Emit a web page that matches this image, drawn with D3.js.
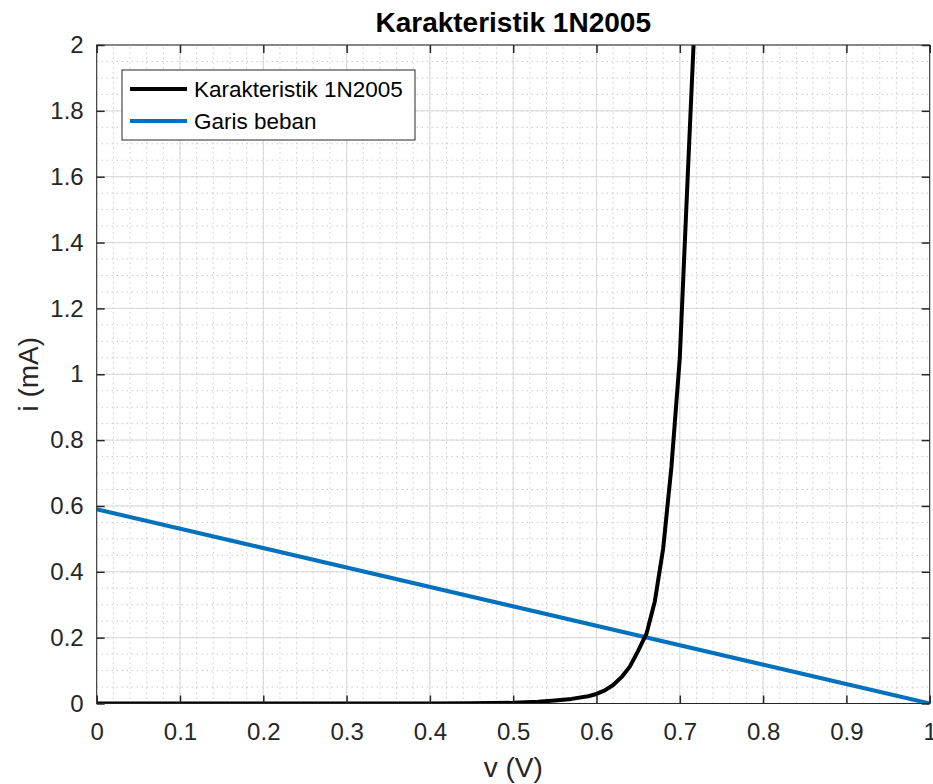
<!DOCTYPE html>
<html><head><meta charset="utf-8">
<script src="https://cdn.jsdelivr.net/npm/d3@7"></script>
<style>body{margin:0;background:#fff;} svg{display:block;font-family:"Liberation Sans",Arial,sans-serif;}</style>
</head><body>
<script>
// Data
const diodeV = [0, 0.1, 0.2, 0.3, 0.4, 0.45, 0.5, 0.53, 0.55, 0.57, 0.59, 0.60, 0.61, 0.62, 0.63, 0.64, 0.65, 0.66, 0.67, 0.68, 0.69, 0.70, 0.71, 0.72];
const diodeI = [0, 0, 0, 0, 0.0002, 0.0008, 0.002, 0.005, 0.009, 0.014, 0.022, 0.029, 0.040, 0.056, 0.080, 0.112, 0.160, 0.212, 0.31, 0.47, 0.72, 1.05, 1.63, 2.2];
const loadV = [0, 1];
const loadI = [0.59, 0];
const xTicks = [0, 0.1, 0.2, 0.3, 0.4, 0.5, 0.6, 0.7, 0.8, 0.9, 1];
const yTicks = [0, 0.2, 0.4, 0.6, 0.8, 1, 1.2, 1.4, 1.6, 1.8, 2];
const seriesNames = ["Karakteristik 1N2005", "Garis beban"];
const seriesColors = ["#000000", "#0072BD"];

const W = 933, H = 784;
const m = {left: 96.7, top: 45, right: 933 - 929.7, bottom: 784 - 703.5};
const svg = d3.select("body").append("svg").attr("width", W).attr("height", H);
const x = d3.scaleLinear().domain([0, 1]).range([m.left, W - m.right]);
const y = d3.scaleLinear().domain([0, 2]).range([H - m.bottom, m.top]);

// minor grid
const xMinor = d3.range(0, 1.0001, 0.02);
const yMinor = d3.range(0, 2.0001, 0.05);
const g = svg.append("g");
g.selectAll(".mx").data(xMinor).enter().append("line")
  .attr("x1", d => x(d)).attr("x2", d => x(d)).attr("y1", y(0)).attr("y2", y(2))
  .attr("stroke", "#b0b0b0").attr("stroke-width", 1).attr("stroke-dasharray", "1,4");
g.selectAll(".my").data(yMinor).enter().append("line")
  .attr("y1", d => y(d)).attr("y2", d => y(d)).attr("x1", x(0)).attr("x2", x(1))
  .attr("stroke", "#b0b0b0").attr("stroke-width", 1).attr("stroke-dasharray", "1,4");
// major grid
g.selectAll(".gx").data(xTicks).enter().append("line")
  .attr("x1", d => x(d)).attr("x2", d => x(d)).attr("y1", y(0)).attr("y2", y(2))
  .attr("stroke", "#d8d8d8").attr("stroke-width", 1);
g.selectAll(".gy").data(yTicks).enter().append("line")
  .attr("y1", d => y(d)).attr("y2", d => y(d)).attr("x1", x(0)).attr("x2", x(1))
  .attr("stroke", "#d8d8d8").attr("stroke-width", 1);

// clip
svg.append("clipPath").attr("id", "clip").append("rect")
  .attr("x", x(0)).attr("y", y(2)).attr("width", x(1) - x(0)).attr("height", y(0) - y(2));

const line = d3.line().x(d => x(d[0])).y(d => y(d[1]));
const plot = svg.append("g").attr("clip-path", "url(#clip)");
plot.append("path").datum(loadV.map((v, i) => [v, loadI[i]]))
  .attr("d", line).attr("fill", "none").attr("stroke", seriesColors[1]).attr("stroke-width", 4);
plot.append("path").datum(diodeV.map((v, i) => [v, diodeI[i]]))
  .attr("d", line).attr("fill", "none").attr("stroke", seriesColors[0]).attr("stroke-width", 4)
  .attr("stroke-linejoin", "round");

// axes
const fmt = d => d3.format("~g")(d);
const axCol = "#262626";
function styleAxis(sel, showLabels) {
  sel.select(".domain").remove();
  sel.selectAll(".tick line").attr("stroke", axCol).attr("stroke-width", 1.5);
  sel.selectAll(".tick text").attr("fill", axCol).style("font-size", "24px");
  if (!showLabels) sel.selectAll(".tick text").remove();
}
svg.append("g").attr("transform", `translate(0,${y(0)})`)
  .call(d3.axisBottom(x).tickValues(xTicks).tickFormat(fmt).tickSizeInner(-8).tickSizeOuter(0).tickPadding(19))
  .call(s => styleAxis(s, true));
svg.append("g").attr("transform", `translate(0,${y(2)})`)
  .call(d3.axisTop(x).tickValues(xTicks).tickSizeInner(-8).tickSizeOuter(0))
  .call(s => styleAxis(s, false));
svg.append("g").attr("transform", `translate(${x(0)},0)`)
  .call(d3.axisLeft(y).tickValues(yTicks).tickFormat(fmt).tickSizeInner(-8).tickSizeOuter(0).tickPadding(13))
  .call(s => styleAxis(s, true));
svg.append("g").attr("transform", `translate(${x(1)},0)`)
  .call(d3.axisRight(y).tickValues(yTicks).tickSizeInner(-8).tickSizeOuter(0))
  .call(s => styleAxis(s, false));
// box
svg.append("rect").attr("x", x(0)).attr("y", y(2)).attr("width", x(1) - x(0)).attr("height", y(0) - y(2))
  .attr("fill", "none").attr("stroke", axCol).attr("stroke-width", 1);

// labels
svg.append("text").attr("x", (x(0) + x(1)) / 2).attr("y", 32).attr("text-anchor", "middle")
  .style("font-size", "28px").style("font-weight", "bold").attr("fill", "#000").text("Karakteristik 1N2005");
svg.append("text").attr("x", (x(0) + x(1)) / 2).attr("y", 777).attr("text-anchor", "middle")
  .style("font-size", "28px").attr("fill", axCol).text("v (V)");
svg.append("text").attr("transform", `translate(38,${(y(0) + y(2)) / 2}) rotate(-90)`).attr("text-anchor", "middle")
  .style("font-size", "28px").attr("fill", axCol).text("i (mA)");

// legend
const lg = svg.append("g");
lg.append("rect").attr("x", 122).attr("y", 70).attr("width", 293).attr("height", 70)
  .attr("fill", "#fff").attr("stroke", axCol).attr("stroke-width", 1);
seriesNames.forEach((n, i) => {
  const yy = 89 + i * 32;
  lg.append("line").attr("x1", 130).attr("x2", 187).attr("y1", yy).attr("y2", yy)
    .attr("stroke", seriesColors[i]).attr("stroke-width", 4);
  lg.append("text").attr("x", 194).attr("y", yy + 8).style("font-size", "22.5px").attr("fill", "#000").text(n);
});
</script>
</body></html>
